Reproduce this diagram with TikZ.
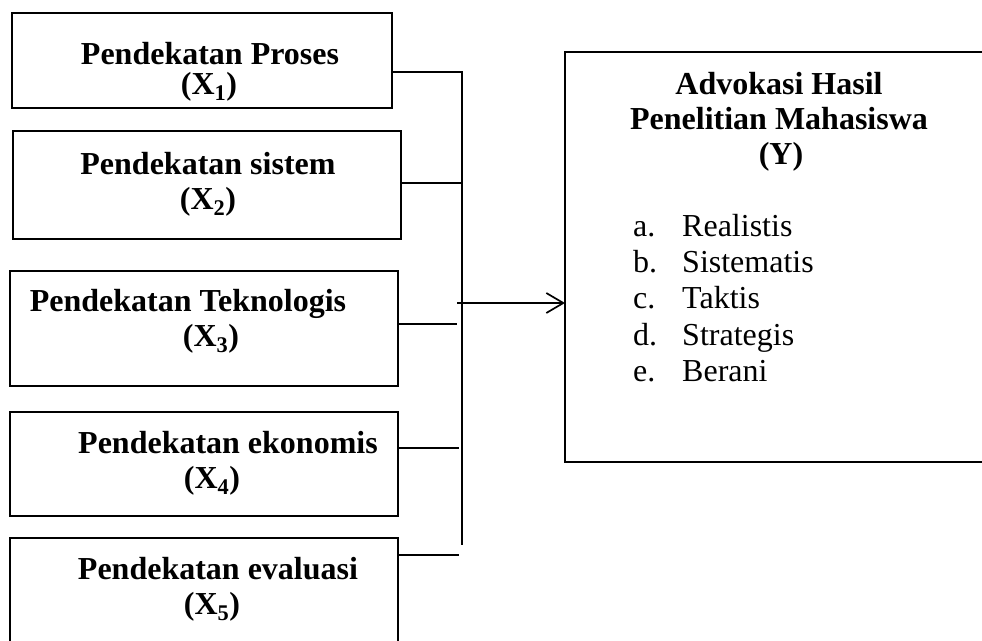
\documentclass[tikz,border=0pt]{standalone}
\usepackage{fontspec}
\setmainfont{Liberation Serif}
\usetikzlibrary{arrows.meta}
\begin{document}
\begin{tikzpicture}[x=1pt,y=-1pt,
  box/.style={draw=black,line width=1.3pt,anchor=north west,inner sep=0pt,outer sep=0pt},
  hd/.style={font=\fontsize{32}{35}\selectfont\bfseries,anchor=base,inner sep=0pt},
  it/.style={font=\fontsize{32}{35}\selectfont,anchor=base west,inner sep=0pt},
  conn/.style={line width=1.3pt},
  arr/.style={line width=1.7pt,-{Straight Barb[length=17pt,width=20pt,line width=1.7pt]}}]
\useasboundingbox (0,0) rectangle (982,640);
\clip (0,0) rectangle (982,640);
% left boxes
\node[box,minimum width=380pt,minimum height=95pt] (b1) at (12,13) {};
\node[box,minimum width=388pt,minimum height=108pt] (b2) at (13,131) {};
\node[box,minimum width=388pt,minimum height=115pt] (b3) at (10,271) {};
\node[box,minimum width=388pt,minimum height=104pt] (b4) at (10,412) {};
\node[box,minimum width=388pt,minimum height=130pt] (b5) at (10,538) {};
% right box (extends past the right edge)
\node[box,minimum width=440pt,minimum height=410pt] (y) at (565,52) {};
% texts of left boxes
\node[hd] (t1a) at (210,64) {Pendekatan Proses};
\node[hd] (t1b) at (209,94) {(X\textsubscript{1})};
\node[hd] (t2a) at (208,174) {Pendekatan sistem};
\node[hd] (t2b) at (208,209) {(X\textsubscript{2})};
\node[hd] (t3a) at (188,311) {Pendekatan Teknologis};
\node[hd] (t3b) at (211,346) {(X\textsubscript{3})};
\node[hd] (t4a) at (228,453) {Pendekatan ekonomis};
\node[hd] (t4b) at (212,488) {(X\textsubscript{4})};
\node[hd] (t5a) at (218,579) {Pendekatan evaluasi};
\node[hd] (t5b) at (212,614) {(X\textsubscript{5})};
% texts of right box
\node[hd] (ya) at (779,94) {Advokasi Hasil};
\node[hd] (yb) at (779,129) {Penelitian Mahasiswa};
\node[hd] (yc) at (781,164) {(Y)};
\node[it] (la) at (633,236) {a.};
\node[it] (lb) at (633,272) {b.};
\node[it] (lc) at (633,308) {c.};
\node[it] (ld) at (633,345) {d.};
\node[it] (le) at (633,381) {e.};
\node[it] (ia) at (682,236) {Realistis};
\node[it] (ib) at (682,272) {Sistematis};
\node[it] (ic) at (682,308) {Taktis};
\node[it] (id) at (682,345) {Strategis};
\node[it] (ie) at (682,381) {Berani};
% bus coordinates
\coordinate (v1) at (463,72);
\coordinate (v2) at (463,183);
\coordinate (v3) at (457,324);
\coordinate (v4) at (459,448);
\coordinate (v5) at (459,555);
\coordinate (vtop) at (462,72);
\coordinate (vbot) at (462,545);
\coordinate (a0) at (457,303);
% connectors
\draw[conn] (b1.east |- v1) -- (v1);
\draw[conn] (b2.east |- v2) -- (v2);
\draw[conn] (b3.east |- v3) -- (v3);
\draw[conn] (b4.east |- v4) -- (v4);
\draw[conn] (b5.east |- v5) -- (v5);
\draw[conn] (vtop) -- (vbot);
\draw[arr] (a0) -- (y.west |- a0);
\end{tikzpicture}
\end{document}
